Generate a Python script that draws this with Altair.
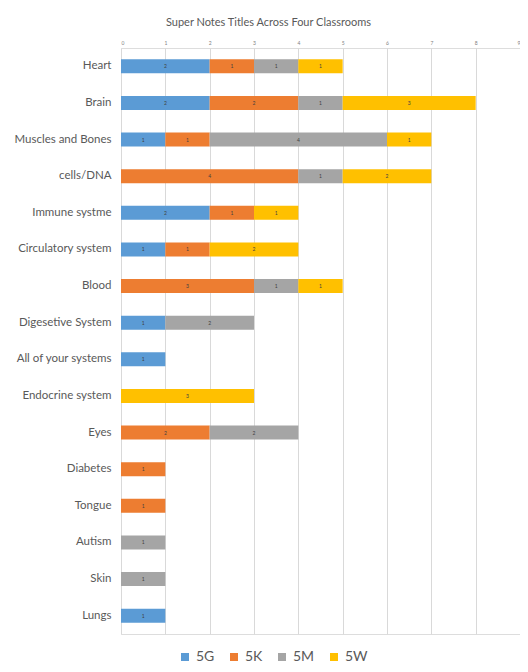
import altair as alt
import pandas as pd

categories = ["Heart", "Brain", "Muscles and Bones", "cells/DNA", "Immune systme",
              "Circulatory system", "Blood", "Digesetive System", "All of your systems",
              "Endocrine system", "Eyes", "Diabetes", "Tongue", "Autism", "Skin", "Lungs"]
series = ["5G", "5K", "5M", "5W"]
v_5G = [2, 2, 1, 0, 2, 1, 0, 1, 1, 0, 0, 0, 0, 0, 0, 1]
v_5K = [1, 2, 1, 4, 1, 1, 3, 0, 0, 0, 2, 1, 1, 0, 0, 0]
v_5M = [1, 1, 4, 1, 0, 0, 1, 2, 0, 0, 2, 0, 0, 1, 1, 0]
v_5W = [1, 3, 1, 2, 1, 2, 1, 0, 0, 3, 0, 0, 0, 0, 0, 0]
colors = ["#5B9BD5", "#ED7D31", "#A5A5A5", "#FFC000"]
x_ticks = [0, 1, 2, 3, 4, 5, 6, 7, 8, 9]

rows = []
for s_i, (s, vals) in enumerate(zip(series, [v_5G, v_5K, v_5M, v_5W])):
    for c, v in zip(categories, vals):
        if v > 0:
            rows.append({"cat": c, "series": s, "order": s_i, "value": v})
df = pd.DataFrame(rows)

FONT = "Lato"

base = alt.Chart(df)

bars = base.mark_bar(size=14).encode(
    x=alt.X("value:Q", stack="zero",
            scale=alt.Scale(domain=[0, 9], nice=False),
            axis=alt.Axis(orient="top", values=x_ticks, title=None, ticks=False, domain=False,
                          labelFontSize=5, labelColor="#808080", labelPadding=3,
                          grid=True, gridColor="#d9d9d9", labelFont=FONT)),
    y=alt.Y("cat:N", sort=categories,
            scale=alt.Scale(paddingInner=0.62, paddingOuter=0.31),
            axis=alt.Axis(title=None, ticks=False, domain=False, labelFontSize=11.5,
                          labelColor="#595959", labelPadding=10, labelFont=FONT,
                          minExtent=108, maxExtent=108)),
    color=alt.Color("series:N", scale=alt.Scale(domain=series, range=colors),
                    legend=alt.Legend(title=None, orient="none", direction="horizontal",
                                      legendX=57, legendY=602, symbolType="square",
                                      symbolSize=64, symbolStrokeWidth=0,
                                      labelFontSize=14, labelColor="#595959", labelFont=FONT,
                                      columnPadding=12, labelOffset=4)),
    order=alt.Order("order:Q"),
)

labels = base.transform_window(
    cum="sum(value)", groupby=["cat"], sort=[alt.SortField("order")],
    frame=[None, 0]
).transform_calculate(
    mid="datum.cum - datum.value / 2"
).mark_text(fontSize=5, color="#404040", font=FONT).encode(
    x=alt.X("mid:Q"),
    y=alt.Y("cat:N", sort=categories),
    text=alt.Text("value:Q"),
)

chart = alt.layer(bars, labels).properties(
    width=399, height=586,
    title=alt.TitleParams("Super Notes Titles Across Four Classrooms", fontSize=11,
                          color="#595959", fontWeight="normal", font=FONT, dx=-52, offset=12),
    autosize=alt.AutoSizeParams(type="none"),
    padding={"left": 113, "top": 40, "right": 0, "bottom": 30},
).configure_view(stroke=None).configure(background="white")

chart.save("out.html", embed_options={"renderer": "svg", "actions": False})
